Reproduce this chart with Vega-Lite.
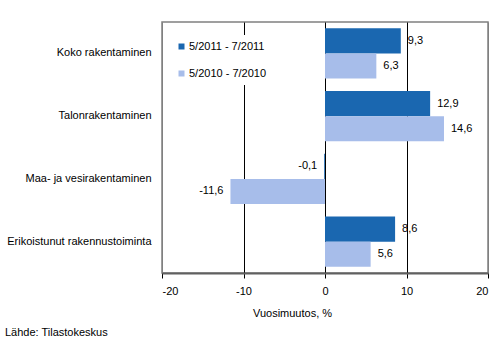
{
  "$schema": "https://vega.github.io/schema/vega-lite/v6.json",
  "autosize": {"type": "none"},
  "width": 326,
  "height": 251,
  "padding": {"left": 162, "top": 22, "right": 14, "bottom": 83},
  "background": "white",
  "config": {
    "font": "Liberation Sans",
    "view": {"stroke": "#808080", "strokeWidth": 1.5},
    "axis": {"labelFont": "Liberation Sans", "labelFontSize": 11, "labelColor": "#000", "titleFont": "Liberation Sans", "titleFontSize": 11, "titleFontWeight": "normal", "titleColor": "#000"},
    "legend": {"labelFont": "Liberation Sans", "labelFontSize": 11, "labelColor": "#000"}
  },
  "data": {
    "values": [
      {"category": "Koko rakentaminen", "series": "5/2011 - 7/2011", "value": 9.3, "label": "9,3"},
      {"category": "Koko rakentaminen", "series": "5/2010 - 7/2010", "value": 6.3, "label": "6,3"},
      {"category": "Talonrakentaminen", "series": "5/2011 - 7/2011", "value": 12.9, "label": "12,9"},
      {"category": "Talonrakentaminen", "series": "5/2010 - 7/2010", "value": 14.6, "label": "14,6"},
      {"category": "Maa- ja vesirakentaminen", "series": "5/2011 - 7/2011", "value": -0.1, "label": "-0,1"},
      {"category": "Maa- ja vesirakentaminen", "series": "5/2010 - 7/2010", "value": -11.6, "label": "-11,6"},
      {"category": "Erikoistunut rakennustoiminta", "series": "5/2011 - 7/2011", "value": 8.6, "label": "8,6"},
      {"category": "Erikoistunut rakennustoiminta", "series": "5/2010 - 7/2010", "value": 5.6, "label": "5,6"}
    ]
  },
  "encoding": {
    "y": {
      "field": "category", "type": "nominal",
      "sort": ["Koko rakentaminen", "Talonrakentaminen", "Maa- ja vesirakentaminen", "Erikoistunut rakennustoiminta"],
      "scale": {"paddingInner": 0.2, "paddingOuter": 0.1},
      "axis": {"title": null, "domain": false, "ticks": false, "labelPadding": 11}
    },
    "yOffset": {"field": "series", "type": "nominal", "sort": ["5/2011 - 7/2011", "5/2010 - 7/2010"]},
    "x": {
      "field": "value", "type": "quantitative",
      "scale": {"domain": [-20, 20], "nice": false},
      "axis": {
        "values": [-20, -10, 0, 10, 20],
        "labelExpr": "toString(datum.value)",
        "title": "Vuosimuutos, %",
        "titleX": 130, "titleY": 34, "titleAnchor": "start",  "titleAlign": "center",
        "domainColor": "#606060", "domainWidth": 2,
        "tickColor": "#000", "tickSize": 5,
        "labelPadding": 7,
        "grid": true,
        "gridColor": {"condition": {"test": "abs(datum.value) == 20", "value": "#808080"}, "value": "#000"},
        "gridWidth": 1
      }
    }
  },
  "layer": [
    {
      "mark": {"type": "bar"},
      "encoding": {
        "color": {
          "field": "series", "type": "nominal",
          "sort": ["5/2011 - 7/2011", "5/2010 - 7/2010"],
          "scale": {"domain": ["5/2011 - 7/2011", "5/2010 - 7/2010"], "range": ["#1a67b0", "#a7bdea"]},
          "legend": {
            "title": null, "orient": "none", "legendX": 8, "legendY": 13,
            "symbolType": "square", "symbolSize": 36, "symbolStrokeWidth": 0,
            "labelOffset": 2, "rowPadding": 15, "padding": 6,
            "fillColor": "white", "strokeColor": null
          }
        }
      }
    },
    {
      "transform": [{"filter": "datum.value >= 0"}],
      "mark": {"type": "text", "align": "left", "baseline": "middle", "dx": 7, "fontSize": 11, "color": "#000"},
      "encoding": {"text": {"field": "label"}}
    },
    {
      "transform": [{"filter": "datum.value < 0"}],
      "mark": {"type": "text", "align": "right", "baseline": "middle", "dx": -7, "fontSize": 11, "color": "#000"},
      "encoding": {"text": {"field": "label"}}
    },
    {
      "data": {"values": [{"source": "Lähde: Tilastokeskus"}]},
      "mark": {"type": "text", "align": "left", "baseline": "middle", "fontSize": 11, "color": "#000", "x": -157, "y": 311},
      "encoding": {"text": {"field": "source"}, "x": null, "y": null, "yOffset": null}
    }
  ]
}
